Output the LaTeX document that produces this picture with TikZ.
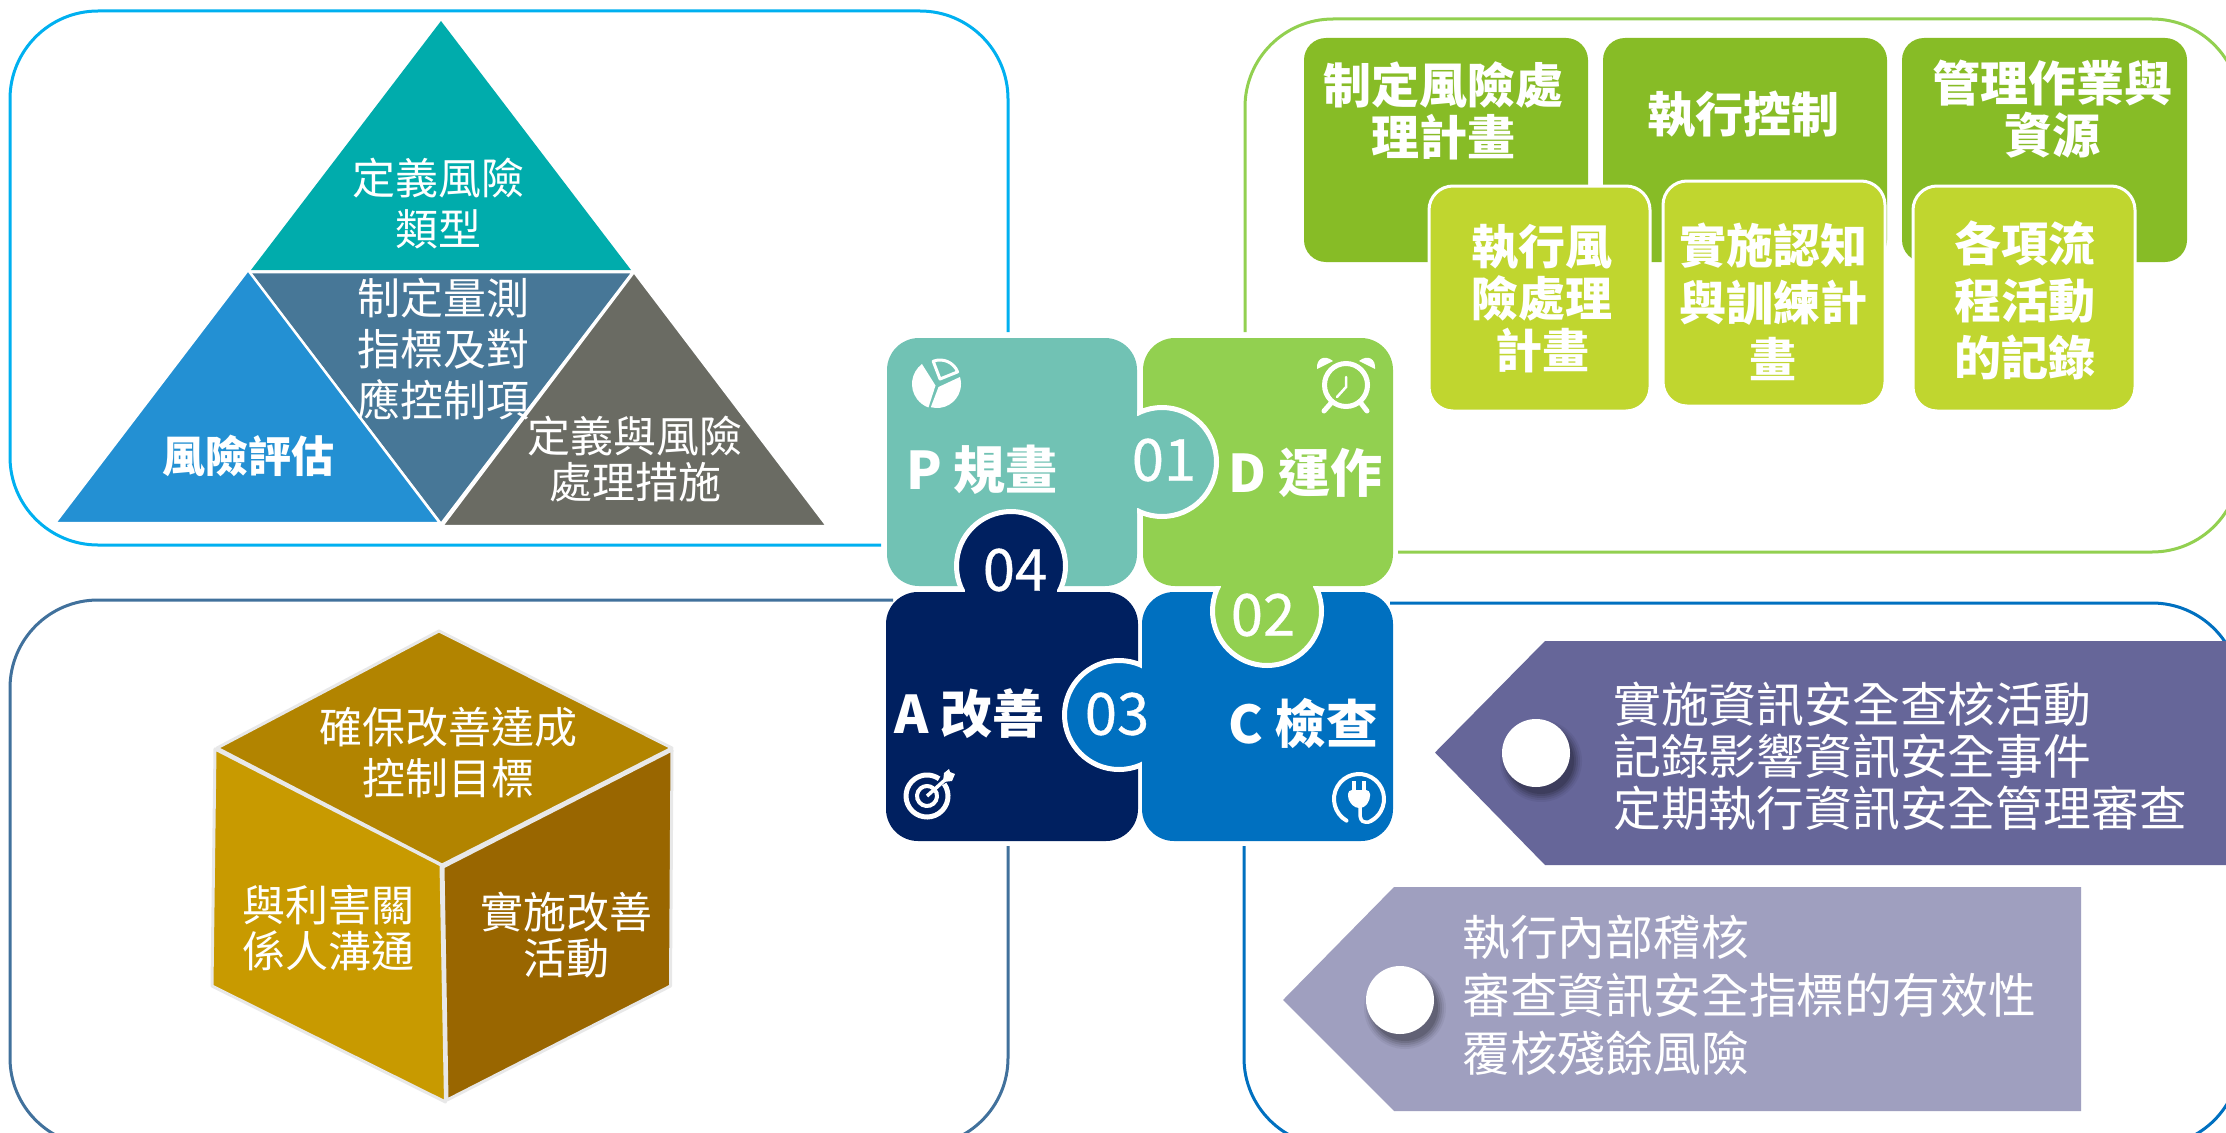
\documentclass[tikz,border=0pt]{standalone}
\usepackage{fontspec}
\setmainfont{Noto Sans CJK TC}
\newfontfamily\digitfont{Noto Sans CJK TC}[FakeBold=0.6]
\tikzset{
  x=1pt,y=-1pt,
  frameline/.style={line width=3pt,rounded corners=88pt},
  tri/.style={draw=white,line width=2.5pt,line join=miter},
  cubeface/.style={draw=black!9,line width=3pt,line join=round},
  darkbox/.style={fill=boxdark,rounded corners=22pt},
  lightbox/.style={fill=boxlight,draw=white,line width=3pt,rounded corners=24pt},
  txt/.style={text=white,align=center,inner sep=0pt},
  t43/.style={txt,font=\fontsize{43}{51}\selectfont},
  t43n/.style={txt,font=\fontsize{43}{46}\selectfont},
  b48/.style={txt,font=\fontsize{48}{52}\bfseries\selectfont},
  b47/.style={txt,font=\fontsize{47}{57}\bfseries\selectfont},
  list/.style={text=white,align=left,inner sep=0pt,anchor=west,font=\fontsize{47.8}{52}\selectfont},
  list2/.style={text=white,align=left,inner sep=0pt,anchor=west,font=\fontsize{47.8}{58}\selectfont},
  puz/.style={txt,anchor=west,font=\fontsize{52}{54}\bfseries\selectfont},
  num/.style={txt,font=\digitfont\fontsize{58}{60}\selectfont},
  icon/.style={white,line width=5pt},
}
\definecolor{pcol}{HTML}{71C2B4}
\definecolor{dcol}{HTML}{92D050}
\definecolor{acol}{HTML}{002060}
\definecolor{ccol}{HTML}{0070C0}
\definecolor{boxdark}{HTML}{87BC26}
\definecolor{boxlight}{HTML}{C0D62F}
\definecolor{framea}{HTML}{00B0F0}
\definecolor{frameb}{HTML}{41719C}
\definecolor{pdark}{HTML}{666699}
\definecolor{plight}{HTML}{9F9FBF}
\definecolor{tria}{HTML}{00ACAC}
\definecolor{trib}{HTML}{477797}
\definecolor{tric}{HTML}{2390D3}
\definecolor{trid}{HTML}{6A6B63}
\definecolor{cuba}{HTML}{B28400}
\definecolor{cubb}{HTML}{C89A00}
\definecolor{cubc}{HTML}{996600}
\newcommand{\softshadow}[3]{%
  \foreach \rr/\oo in {41/0.05,39/0.07,37/0.09,35/0.11,33/0.13}{\fill[black,opacity=\oo] (#1+5,#2+8) circle[radius=\rr pt];}%
  \fill[white] (#1,#2) circle[radius=#3 pt];}
\begin{document}
\begin{tikzpicture}
\clip (0,0) rectangle (2226,1132);
\fill[white] (0,0) rectangle (2226,1132);
% frames
\draw[frameline,framea] (881,545) -- (10,545) -- (10,11) -- (1008,11) -- (1008,332);
\draw[frameline,dcol] (1398,552) -- (2240,552) -- (2240,19) -- (1245,19) -- (1245,332);
\draw[frameline,frameb] (893,600) -- (10,600) -- (10,1146) -- (1008,1146) -- (1008,846);
\draw[frameline,ccol] (1390,603) -- (2240,603) -- (2240,1146) -- (1244,1146) -- (1244,846);
% triangles
\fill[tria] (441,21) -- (631,270) -- (251,270) -- cycle;
\draw[tri,fill=trib] (249,272) -- (633,272) -- (441,524) -- cycle;
\draw[tri,fill=tric] (248,270) -- (440,523) -- (55,523) -- cycle;
\draw[tri,fill=trid] (634,272) -- (827,526) -- (442,526) -- cycle;
\node[t43] (t1) at (438,204) {定義風險\\類型};
\node[t43] (t2) at (443,349) {制定量測\\指標及對\\應控制項};
\node[t43,font=\fontsize{43}{51}\bfseries\selectfont] (t3) at (248,456) {風險評估};
\node[t43n] (t4) at (635,459) {定義與風險\\處理措施};
% cube
\draw[cubeface,fill=cuba] (439,631) -- (672,748) -- (442,865) -- (217,748) -- cycle;
\draw[cubeface,fill=cubb] (215,749) -- (441,865) -- (445.5,1102) -- (212,986) -- cycle;
\draw[cubeface,fill=cubc] (443,867) -- (672,750) -- (670.5,986) -- (447,1100) -- cycle;
\node[t43] (c1) at (448,753) {確保改善達成\\控制目標};
\node[t43n] (c2) at (328,928) {與利害關\\係人溝通};
\node[t43n] (c3) at (566,935) {實施改善\\活動};
% green boxes
\fill[darkbox] (1304,38) rectangle (1588,262);
\fill[darkbox] (1603,38) rectangle (1887,262);
\fill[darkbox] (1902,38) rectangle (2187,262);
\node[b48] (g1) at (1443,111) {制定風險處\\理計畫};
\node[b48] (g2) at (1743,115) {執行控制};
\node[b48] (g3) at (2052,109) {管理作業與\\資源};
\draw[lightbox] (1429,186) rectangle (1650,411);
\draw[lightbox] (1663,181) rectangle (1885,406);
\draw[lightbox] (1913,186) rectangle (2135,411);
\node[b47,font=\fontsize{47}{52}\bfseries\selectfont] (h1) at (1542,299) {執行風\\險處理\\計畫};
\node[b47] (h2) at (1773,302) {實施認知\\與訓練計\\畫};
\node[b47] (h3) at (2025,300) {各項流\\程活動\\的記錄};
% pentagons
\fill[pdark] (1435,752.5) -- (1545,641) -- (2240,641) -- (2240,865) -- (1545,865) -- cycle;
\fill[plight] (1283,1000) -- (1394,887) -- (2081,887) -- (2081,1111) -- (1394,1111) -- cycle;
\softshadow{1536}{753}{34}
\softshadow{1400}{1000}{34}
\node[list] (l1) at (1613,756) {實施資訊安全查核活動\\記錄影響資訊安全事件\\定期執行資訊安全管理審查};
\node[list2] (l2) at (1462,995) {執行內部稽核\\審查資訊安全指標的有效性\\覆核殘餘風險};
% puzzle pieces
\fill[pcol,rounded corners=32pt] (887,338) rectangle (1137,586);
\fill[dcol,rounded corners=32pt] (1143,338) rectangle (1393,586);
\fill[acol,rounded corners=32pt] (886,592) rectangle (1138,841);
\fill[ccol,rounded corners=32pt] (1142,592) rectangle (1393,841);
% tabs
\filldraw[fill=pcol,draw=white,line width=5pt] (1162,462) circle[radius=54.5pt];
\fill[pcol] (1100,400) rectangle (1137,524);
\fill[pcol] (1135,416) rectangle (1146,508);
\filldraw[fill=dcol,draw=white,line width=5pt] (1267,611) circle[radius=54.5pt];
\fill[dcol] (1205,550) rectangle (1330,586);
\fill[dcol] (1221,584) rectangle (1313,596);
\filldraw[fill=ccol,draw=white,line width=5pt] (1119,715) circle[radius=54.5pt];
\fill[ccol] (1142,650) rectangle (1180,780);
\fill[ccol] (1134,669) rectangle (1144,761);
\filldraw[fill=acol,draw=white,line width=5pt] (1011,566) circle[radius=54.5pt];
\fill[acol] (950,592) rectangle (1072,628);
\fill[acol] (965,584) rectangle (1057,594);
% puzzle labels
\node[puz] (p) at (906,470) {P 規畫};
\node[puz] (d) at (1228,473) {D 運作};
\node[puz] (a) at (894,714) {A 改善};
\node[puz] (cc) at (1228,723) {C 檢查};
\node[num] (n1) at (1164,460) {01};
\node[num] (n2) at (1263,615) {02};
\node[num] (n3) at (1117,714) {03};
\node[num] (n4) at (1015,570) {04};
% pie icon
\begin{scope}[shift={(937,384)},y=1pt]
  \fill[white] (-1.5,-1.5) -- (127:25) arc[start angle=127,end angle=250,radius=25pt] -- cycle;
  \fill[white] (1.5,-3) -- (255:24) arc[start angle=255,end angle=377,radius=24pt] -- cycle;
  \draw[white,line width=3pt,line join=round] (3,5) -- ++(111:19) arc[start angle=111,end angle=22,radius=19pt] -- cycle;
\end{scope}
% clock icon
\begin{scope}[shift={(1346,385)},y=1pt]
  \draw[icon] (0,0) circle[radius=21.5pt];
  \draw[white,line width=2.5pt,line cap=round] (0,8) -- (0,-2) -- (-9,-12);
  \fill[white] (-29,16) .. controls (-30,26) and (-22,31) .. (-13,24) -- cycle;
  \fill[white] (29,16) .. controls (30,26) and (22,31) .. (13,24) -- cycle;
  \draw[white,line width=5pt,line cap=round] (-14,-17) -- (-22,-26);
  \draw[white,line width=5pt,line cap=round] (14,-17) -- (21,-26);
\end{scope}
% target icon
\begin{scope}[shift={(927,796)},y=1pt]
  \draw[icon] (0,0) ++(35:21) arc[start angle=35,end angle=-305,radius=21pt];
  \draw[icon,line width=4pt] (0,0) ++(40:10) arc[start angle=40,end angle=-310,radius=10pt];
  \draw[white,line width=3.5pt] (0,0) -- (19,17);
  \fill[white] (16,14) -- (17,23) -- (22,27) -- (23,24) -- (28,22) -- (25,15) -- cycle;
\end{scope}
% plug icon
\begin{scope}[shift={(1359,799)},y=1pt]
  \draw[white,line width=4pt,line cap=round] (0,0) ++(240:25) arc[start angle=240,end angle=-62,radius=25pt];
  \fill[white,rounded corners=4pt] (-11,9) -- (11,9) -- (11,-1) -- (5,-9) -- (-4,-9) -- (-11,-1) -- cycle;
  \fill[white] (-7,18) rectangle (-3,9);
  \fill[white] (3,18) rectangle (7,9);
  \draw[white,line width=3.5pt] (1,-8) -- (1,-15) to[out=-90,in=180] (6,-23) to[out=0,in=-130] (12,-22);
\end{scope}
\end{tikzpicture}
\end{document}
